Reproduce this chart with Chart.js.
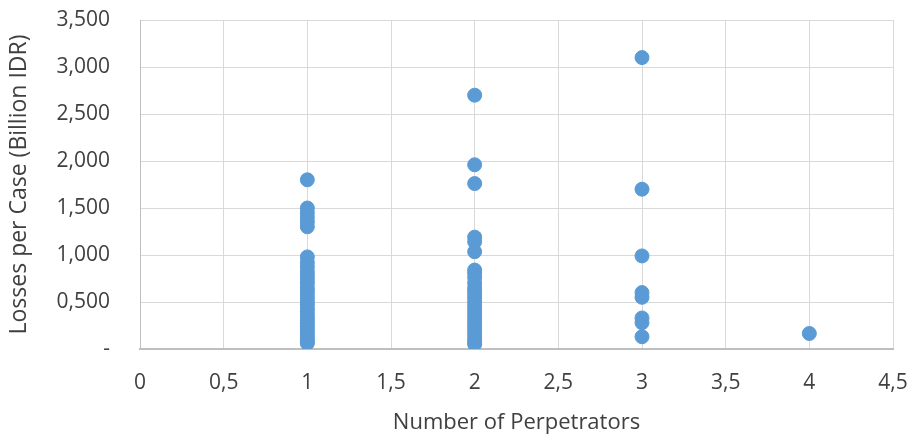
<!DOCTYPE html>
<html>
<head>
<meta charset="utf-8">
<script src="https://cdn.jsdelivr.net/npm/chart.js@4/dist/chart.umd.min.js"></script>
<style>
  html, body { margin: 0; padding: 0; background: #fff; }
  #wrap { width: 914px; height: 439px; position: relative; }
</style>
</head>
<body>
<div id="wrap"><canvas id="chart"></canvas></div>
<script>
// ----- Data -----
const perpetrators = [1, 2, 3, 4];

const lossesOne = [1800, 1500, 1450, 1400, 1350, 1300, 980, 920, 870, 820, 780, 740,
  700, 650, 620, 580, 540, 500, 470, 430, 400, 360, 330, 300, 270, 240, 200, 170,
  140, 110, 80, 60];
const lossesTwo = [2700, 1960, 1760, 1190, 1140, 1035, 840, 805, 760, 700, 650, 620,
  580, 540, 500, 460, 420, 380, 340, 300, 260, 220, 180, 140, 100, 70, 50];
const lossesThree = [3100, 1700, 990, 600, 550, 330, 280, 130];
const lossesFour = [165];

const xTickLabels = ['0', '0,5', '1', '1,5', '2', '2,5', '3', '3,5', '4', '4,5'];
const yTickLabels = ['-', '0,500', '1,000', '1,500', '2,000', '2,500', '3,000', '3,500'];

const xTitle = 'Number of Perpetrators';
const yTitle = 'Losses per Case (Billion IDR)';

// ----- Build points -----
const groups = [lossesOne, lossesTwo, lossesThree, lossesFour];
const points = [];
groups.forEach((vals, i) => {
  vals.forEach(v => points.push({ x: perpetrators[i], y: v }));
});

const FONT = "'Open Sans', sans-serif";
const TEXT = '#404040';
const GRID = '#d9d9d9';

new Chart(document.getElementById('chart'), {
  type: 'scatter',
  data: {
    datasets: [{
      label: 'Losses',
      data: points,
      backgroundColor: '#5b9bd5',
      borderColor: '#5b9bd5',
      borderWidth: 1,
      pointRadius: 7,
    }],
  },
  options: {
    responsive: true,
    maintainAspectRatio: false,
    animation: false,
    layout: { padding: { left: 0, right: 21, top: 20, bottom: 0 } },
    plugins: {
      legend: { display: false },
      tooltip: { enabled: false },
    },
    scales: {
      x: {
        type: 'linear',
        min: 0,
        max: 4.5,
        afterBuildTicks: s => { s.ticks = xTickLabels.map((_, i) => ({ value: i * 0.5 })); },
        afterFit: s => {
          s.height = 90;
          s.paddingLeft = 0;
          s.paddingRight = 0;
        },
        ticks: {
          color: TEXT,
          font: { family: FONT, size: 21 },
          padding: 21,
          maxRotation: 0,
          autoSkip: false,
          callback: (v, i) => xTickLabels[i],
        },
        grid: { color: GRID, lineWidth: 1, drawTicks: false },
        border: { color: '#bfbfbf', width: 2 },
        title: {
          display: true,
          text: xTitle,
          color: TEXT,
          font: { family: FONT, size: 22 },
          padding: { top: 4, bottom: 3 },
        },
      },
      y: {
        min: 0,
        max: 3500,
        afterBuildTicks: s => { s.ticks = yTickLabels.map((_, i) => ({ value: i * 500 })); },
        afterFit: s => {
          s.width = 140;
          s.paddingTop = 0;
          s.paddingBottom = 0;
        },
        ticks: {
          color: TEXT,
          font: { family: FONT, size: 21 },
          padding: 30,
          autoSkip: false,
          callback: (v, i) => yTickLabels[i],
        },
        grid: { color: GRID, lineWidth: 1, drawTicks: false },
        border: { color: '#bfbfbf', width: 1 },
        title: {
          display: true,
          text: yTitle,
          color: TEXT,
          font: { family: FONT, size: 23 },
          padding: { top: 6, bottom: 4 },
        },
      },
    },
  },
});
</script>
</body>
</html>
